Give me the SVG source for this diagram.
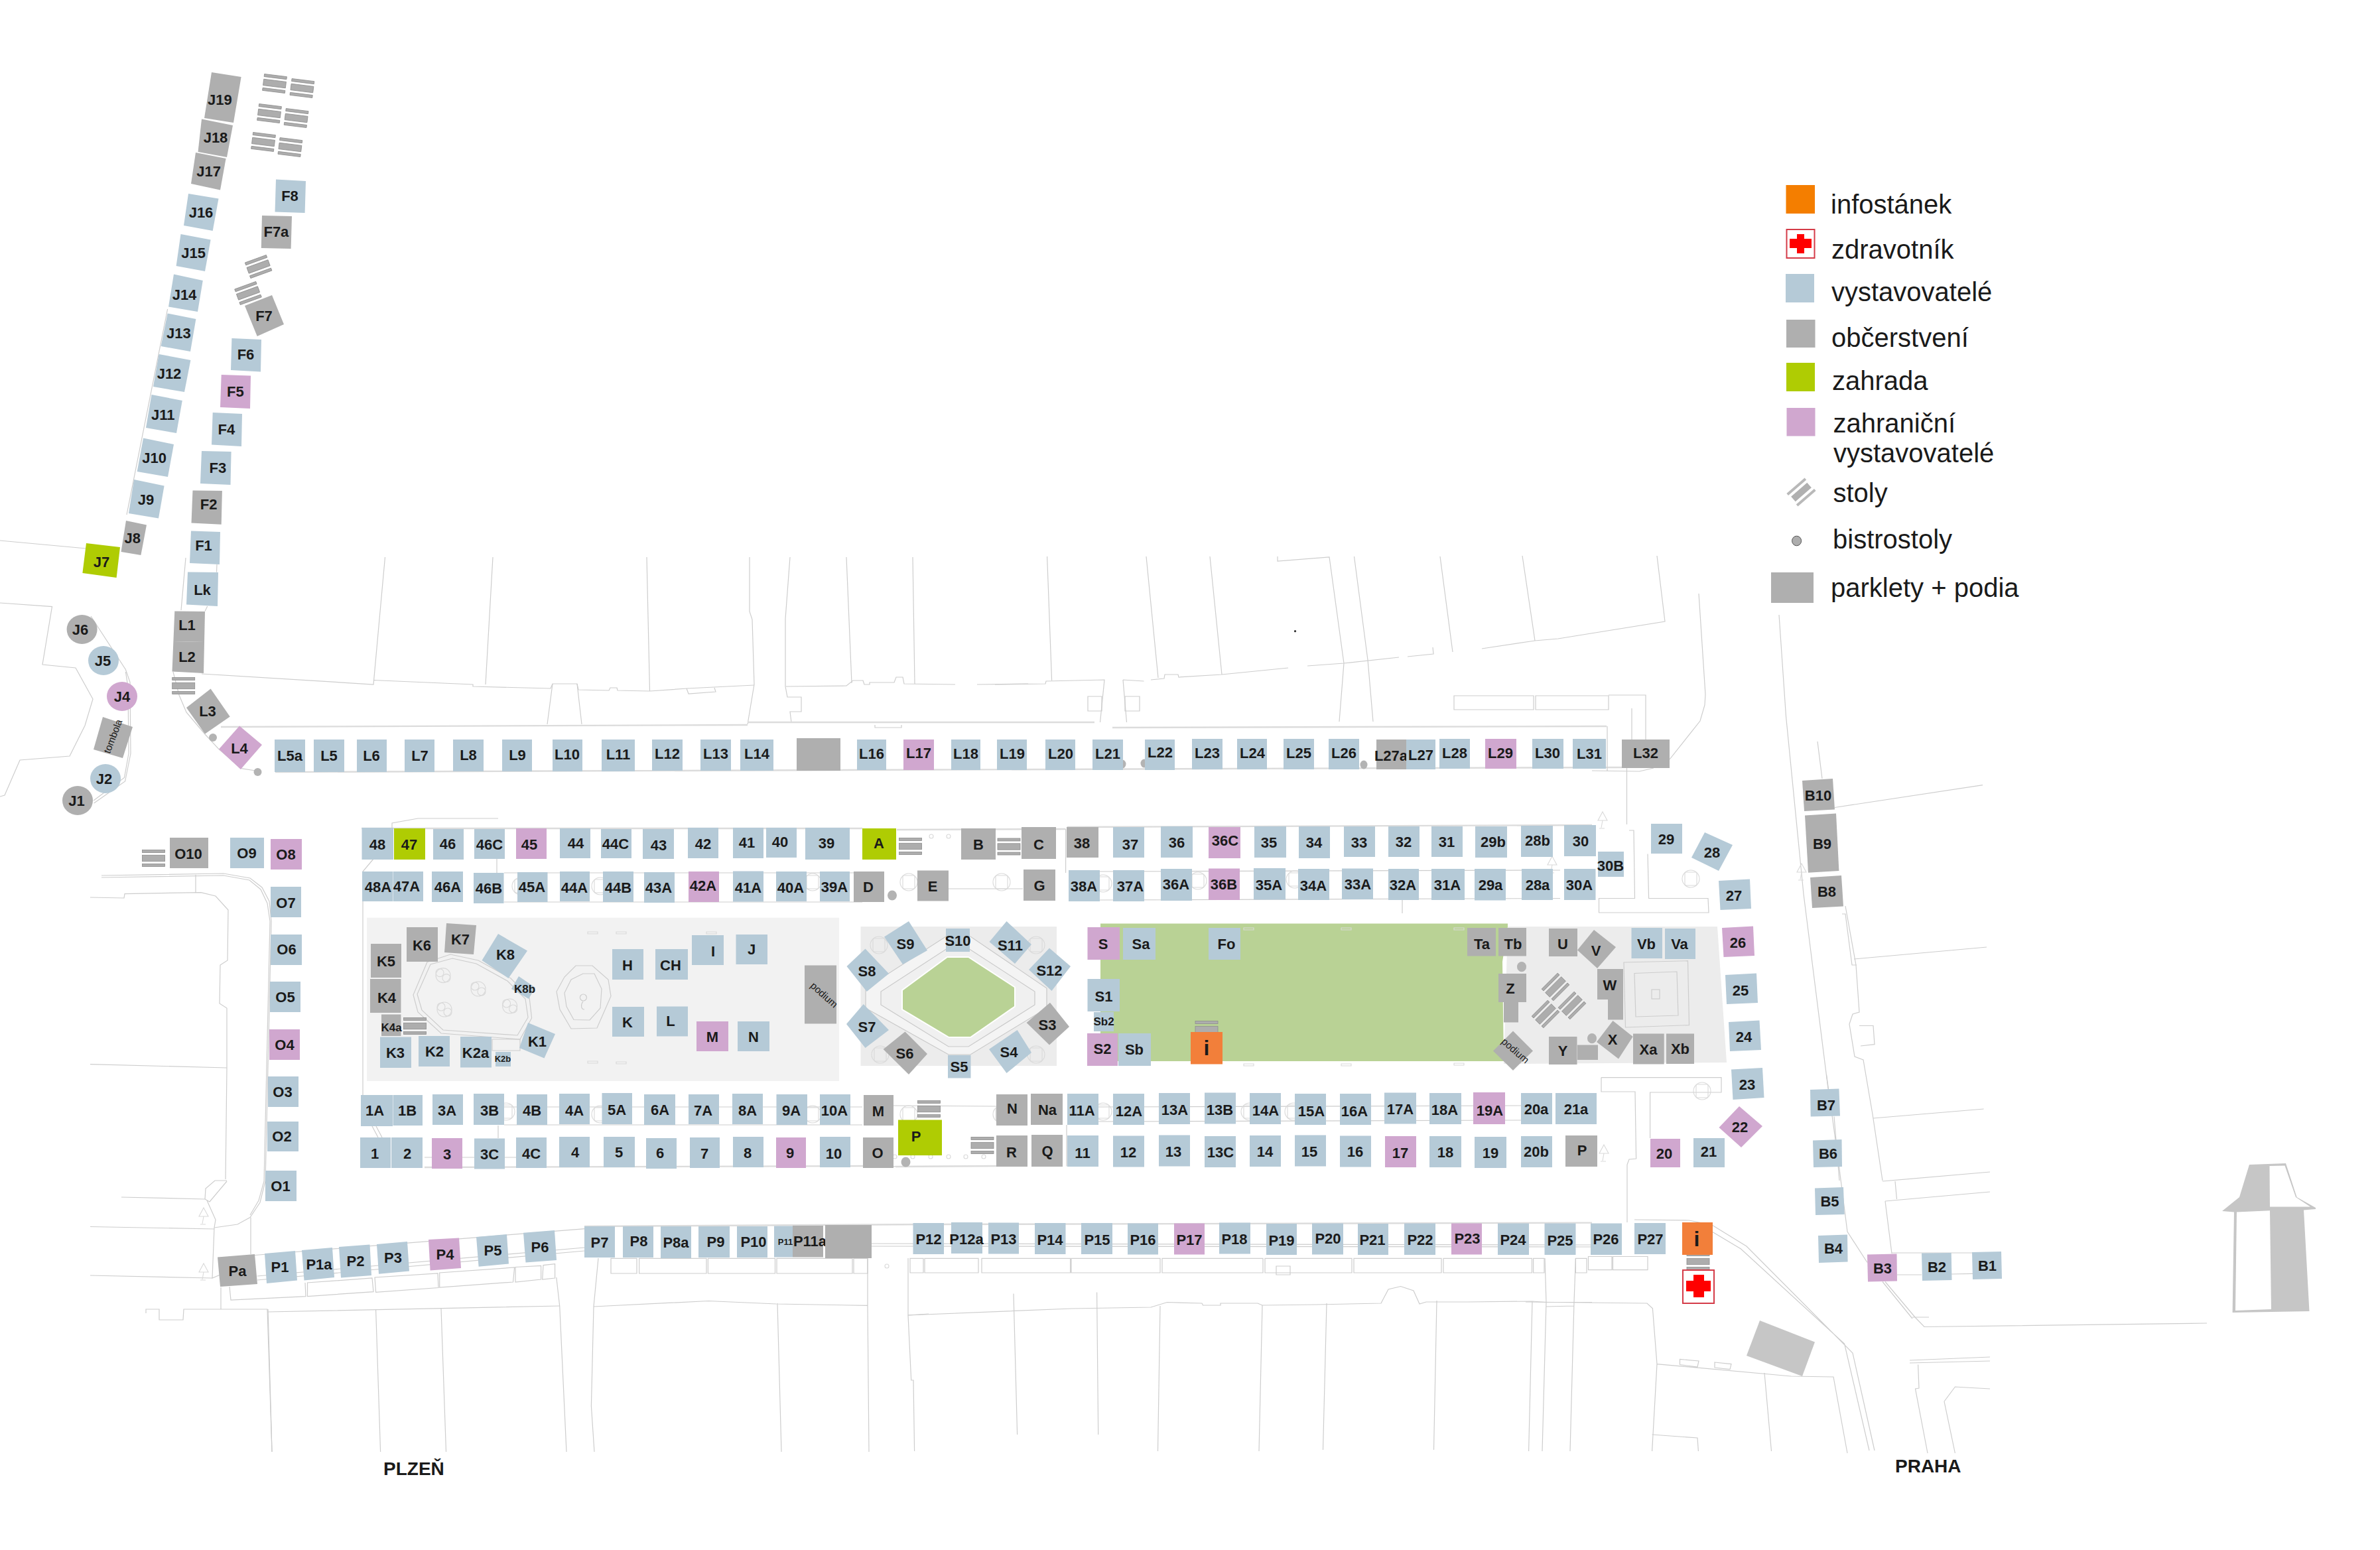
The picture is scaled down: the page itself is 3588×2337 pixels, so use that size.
<svg xmlns="http://www.w3.org/2000/svg" xmlns:xlink="http://www.w3.org/1999/xlink" width="3588" height="2337" viewBox="0 0 3588 2337">
<style>
.b{fill:#b5cad7}.g{fill:#afafaf}.p{fill:#d0a7cf}.z{fill:#afcc03}.o{fill:#f27f3a}
text{font-family:"Liberation Sans",Arial,sans-serif;fill:#1a1a1a}
.l{font-weight:700;font-size:22px;text-anchor:middle}
.s{font-weight:700;font-size:17px;text-anchor:middle}
.t{font-weight:700;font-size:13px;text-anchor:middle}
.r{font-size:15px;text-anchor:middle}
.lg{font-size:40px}
.c{font-weight:700;font-size:28px}
.ln{fill:none;stroke:#cdcdcd;stroke-width:1.2}
.hv{fill:none;stroke:#dcdcdc;stroke-width:2.4}
.sy{fill:none;stroke:#d9d9d9;stroke-width:1.1}
.bs{fill:#b3b3b3}
.tb{fill:#adadad;stroke:#8c8c8c;stroke-width:.8}
.red{fill:#f00}
</style>
<defs>
<g id="t"><rect class="tb" x="-17" y="-12.5" width="34" height="4"/><rect class="tb" x="-17" y="-4.7" width="34" height="9.4"/><rect class="tb" x="-17" y="8.5" width="34" height="4"/></g>
<g id="c"><rect class="sy" x="-9" y="-10" width="18" height="20" rx="2"/><ellipse class="sy" cx="0" cy="0" rx="13" ry="13"/></g>
<g id="a"><path class="sy" d="M0-12L7 1H-7ZM0 1L-2 12M-5 13H3"/></g>
<g id="d"><circle class="sy" r="3"/></g>
<g id="q"><circle class="sy" r="11"/><circle class="sy" cx="-5" cy="-4" r="6"/><circle class="sy" cx="5" cy="4" r="6"/></g>
</defs>
<g id="basemap">
<path class="ln" d="M0 815L130 827M0 909L78.5 914.6L64 1002L114 1007L140 1054L128 1094L105 1140L30 1146L7 1199L0 1201"/>
<path class="ln" d="M137 929L189.4 1009.5L196 1028.6L197 1136L188.6 1178L141.6 1211M189.4 1013L193 1036L194 1136L187.5 1172.4L141 1207"/>
<path class="ln" d="M191 776L252.6 466M280 841L273 920M327 851L326.5 862.6M312.7 914L309 921.5"/>
<path class="ln" d="M261 1013L270 1048L281 1074L309 1107L330 1129.6L363.6 1158.6L388.4 1162.5"/>
<path class="ln" d="M304 1016L563 1032L580.5 840M563 1025.5L713 1032L713 1035L830 1038L833 1031L870 1031L872 1040L918 1041L920 1037L930 1037L931 1041L979.5 1042L1036 1038L1137 1033"/>
<path class="ln" d="M743 840L732 1032M975 840L979.5 1042M1130 840L1130 922L1134 934L1137 1032L1127 1092M1191 840L1184 933L1184 1035L1187 1051L1208 1051L1208 1073L1191 1073L1193 1089M1276 840L1284 1030M1376 840L1379 1031"/>
<path class="ln" d="M1185 1035L1276 1034L1286 1026L1301 1026L1303 1032L1311 1032L1311 1029L1348 1029L1351 1021L1361 1021L1363 1031L1440 1032M1473 1032L1550 1031"/>
<path class="ln" d="M833 1031L825 1092M870 1031L877 1092M1035 1038L1038 1046L1079 1043L1077 1037M1319 1093L1319 1097L1359 1097L1359 1093"/>
<path class="hv" d="M333 1096L1127 1093M1127 1089L1650 1089M1677 1097L2422 1095M415 1164L2445 1157"/>
<path class="ln" d="M1500 1032L1576 1031L1577 1027L1665 1025L1658.5 1089M1578.6 839L1585.6 1026M1693 1025L1698.5 1089M1693 1025L1724.5 1027"/>
<path class="ln" d="M1735 1025L1755 1023L1756 1017L1776 1017L1777 1021L1842 1017L1942 1007M1971 1004L2026 1000L2109 991M2122 990L2161 986L2160 976M2234 978L2314 966L2349 963L2510 937L2498 838"/>
<path class="ln" d="M1728 839L1746 1022M1824 839L1842 1017M1926 839L1926 846L2004 840L2026 1000L2019 1088M2041.5 839L2062 995L2070 1088M2171 839L2190 983M2295 838L2314 966"/>
<path class="ln" d="M2561 895L2571 1047L2570 1063L2563 1087L2517 1145M2192 1049H2312V1070H2192ZM2315 1049H2425V1070H2315ZM2425 1048H2481V1115M2460 1068V1115M1640 1050H1661V1072H1640ZM1696 1050H1718V1072H1696Z"/>
<path class="ln" d="M2423 1095V1162.6M2400 1162L2471.6 1163L2493 1158M2452.5 1158V1243M2456 1252H2463L2464.5 1354.5H2410.5V1376H2576L2575 1354.5H2485.6L2484 1287.6"/>
<path class="ln" d="M2414 1624.6H2595V1647H2487.6V1716M2414 1624.6V1646H2465L2466.6 1747L2456 1748L2453 1756V1843"/>
<path class="ln" d="M2682 927L2692.5 1080L2719 1348L2756 1641.6M2740 1118L2747 1174M2765 1683.5L2773 1780M2782 1366L2798 1455L2803 1526L2793 1529L2788 1544L2796 1593L2809 1598L2823 1680L2838 1780"/>
<path class="ln" d="M2803 1546.5H2824L2826 1574.6L2805 1577M2766 1217.5L2989 1183.6M2795 1446L2995 1428M2824 1686L2990.6 1672M2777 1378H2782L2792 1455H2799"/>
<path class="ln" d="M2838 1781L3000 1767M2857 1781L2859.5 1808M2842 1811L3000 1797M2842 1811L2852 1890M2753.5 1620L2772.4 1758L2785 1857L2815 1903.5M2852 1889H2974M2860 1922H2897M2942 1921L2974 1920.4M2838 1932.5L2883 1988M2842 1932.5L2887 1986L2901 2000.5L3327 1995M2883 1986H2908"/>
<path class="ln" d="M2464 1839L2546.5 1840L2581 1847L2633 1879L2793 2040L2826 2187M2581 1857L2624.5 1883L2780.6 2026L2818 2187"/>
<path class="ln" d="M2300 1963L2483 1965L2491.4 1972.7L2498 2056.6L2700 2075L2764 2076L2785 2191M2498 2056.6L2490.6 2188M2660 2070L2670.5 2188M2490.6 2163L2559 2168L2560.4 2188M2532.5 2049.4L2561 2052L2559 2061L2532.5 2057.5ZM2585 2054L2610 2056.6L2608 2064.6L2585 2062Z"/>
<path class="ln" d="M2879 2051L3000 2046M2879 2055L3000 2052M2891.6 2057.5L2893 2093L2887.5 2094L2906 2191M2931 2113L2947.4 2091L3000 2094M2931 2113L2947.4 2191"/>
<path class="ln" d="M153 1320L337 1317L377 1324L395 1338L406 1359L409 1389L400 1781L392 1813L377 1835.5L358 1846L323 1851M153 1323L337 1320L376 1327L393 1341L403 1362L407 1389L398 1781L390 1810L377 1832"/>
<path class="ln" d="M136 1353L187 1354L188 1347.6L303 1345.6L325 1351L344 1372L343 1448L332 1455L331 1513L342 1520L342 1610L340 1778M136 1604.6L342 1610M295 1319V1345.6M342 1780H324L310 1792L309 1808L316 1812L342 1781M183 1805L310 1808"/>
<path class="ln" d="M312 1810L325 1839L323 1851L320 1927L332 1922M136 1849.5L323 1853M136 1923L320 1927M378 1835.5V1891M333 1941V1974M220 1980V1974H240V1990H276L277 1974H403L410 2189M403 1978L843.7 1969"/>
<path class="ln" d="M387.7 1924L881 1881M387.7 1930L881 1886M384 1892.5L882 1852.6M1314 1875L2400 1877M1314 1879L2400 1880"/>
<path class="hv" d="M881 1849L1400 1846L2400 1843.6"/>
<path class="ln" d="M1372 1897.4H1392V1919H1372ZM1394 1897.4H1475V1919H1394ZM1480 1897.4H1613.6V1919H1480ZM1615 1897.4H1749V1919H1615ZM1752 1897.4H1904V1919H1752ZM1907 1897.4H2038V1919H1907ZM2041 1897.4H2173V1919H2041ZM2176 1897.4H2309.5V1919H2176ZM2311.6 1897.4H2328V1919H2311.6ZM2375.4 1897.4H2392V1919H2375.4ZM2394.5 1894.5H2430V1914.6H2394.5ZM2431.5 1894.5H2484V1914.6H2431.5ZM1924 1909H1945V1922H1924Z"/>
<path class="ln" d="M921 1897.4H960V1920H921ZM963.6 1897.4H1065V1920H963.6ZM1067.4 1897.4H1168.5V1920H1067.4ZM1171 1897.4H1285V1920H1171ZM1287 1897.4H1308V1920H1287Z"/>
<path class="ln" d="M346 1940L348 1960L461 1954.6L460 1934M463.5 1934V1954.6L563 1947.6L561 1927ZM565 1926L566.6 1948.4L661 1941.5L660 1920ZM662.7 1919V1941L773.5 1933L775.6 1911ZM777 1910.5V1933L815.6 1929V1908.5ZM819 1907.6L817.7 1929L836.6 1927V1905.6Z"/>
<path class="ln" d="M838.8 1926L843.7 1969L854 2189M902 1897L895 1970L891.4 2120L896 2189M895 1970L1068 1961.5L1170 1966L1308 1968.4M404 1974L410 2189M566.6 1975L573.6 2189M665 1973L672.5 2189M1172 1965L1178 2189M1308 1897V1968L1310 2189M1400 1981L1369 1983"/>
<path class="ln" d="M1368.7 1983L1615.7 1973L1735 1971L1759.5 1963.5L1812 1965L1813.5 1968H1840V1965H1896L1903 1968L1984 1967L2082 1965L2093 1944L2111.6 1939.5L2131 1946L2140 1966L2150 1963H2212L2310 1962L2331 1963.5H2400"/>
<path class="ln" d="M1528 1950.5L1533.6 2163M1653.6 1948.4L1655.7 2163M1749 1969L1745.5 2188M1903 1968L1898 2188M2000 1965L1994.5 2186M2166 1961L2161.5 2186M2310 1962L2304.6 2188M2329 1897L2331 1963.5L2325 2188M2375.4 1897L2373 1963.5L2367 2188M2331 1970L2373 1969M1369 1897V1983L1373.7 2081H1377L1378.6 2188"/>
<path class="ln" d="M591 1248V1241L630 1234H751M563 1295L547 1314V1651M561 1698L570 1715M567 1698L576 1715M749 1295V1316M751 1697V1716"/>
<path class="hv" d="M545 1249H1300M1352 1251L1606.6 1250M1608.7 1247L2400 1244"/>
<path class="ln" d="M760 1316H1300M760 1360H1300M1606.6 1250V1316M1430 1340H1542M1658 1314L2352 1312M1658 1357L2352 1354.5M2114 1357V1377"/>
<path class="ln" d="M760 1669H1300M760 1696H1300M640 1745H780M1347 1667L1502 1668M1347 1758.5L1502 1758M1608 1696V1758.6M1656 1669L2293 1667M1656 1691L2293 1689"/>
<path class="hv" d="M640 1760L1302 1758M1350 1759L1502 1758"/>
<polygon points="3391,1756 3446,1754 3462.6,1805 3491,1821 3491,1823 3473,1824.5 3481.5,1977 3365.6,1979 3368,1827.6 3350,1826 3376,1805" fill="#c6c6c6"/>
<polygon points="3421.5,1758 3444.5,1757.5 3461,1805 3483,1819.5 3422,1819.5" fill="#fff"/>
<polygon points="3372,1827.6 3422,1825.3 3424,1974 3370,1976" fill="#fff"/>
<polygon points="2653,1991 2736,2023.5 2717,2075 2633,2044" fill="#c6c6c6"/>
<circle cx="1952.5" cy="951.7" r="1.6" fill="#333"/>
</g>
<g id="squares">
<rect x="553" y="1383.6" width="712" height="246.4" fill="#f2f2f2"/>
<rect x="1297.5" y="1397" width="295.5" height="210" fill="#ececec"/>
<polygon points="2273,1397 2589,1397 2603,1602 2267,1604" fill="#ececec"/>
<polygon points="1659,1392.5 2273,1392.5 2273,1397 2265,1450 2267,1600 1659,1600" fill="#b9d295"/>
<polygon points="1426,1412 1463,1412 1578,1490 1578,1520 1463,1590 1430,1590 1305,1520 1305,1490" fill="#f4f4f4" stroke="#c9c9c9" stroke-width="1.2"/>
<polygon points="1428,1430 1460,1430 1560,1495 1560,1515 1460,1578 1430,1578 1328,1515 1328,1495" fill="#f0f0f0" stroke="#c9c9c9" stroke-width="1.2"/>
<polygon points="1428,1443 1460,1443 1530,1488.5 1530,1517.5 1463,1564 1430.5,1564 1360,1522 1360,1493" fill="#b9d295" stroke="#fff" stroke-width="2"/>
<polygon class="ln" points="679,1439 721,1448 770,1475 798,1504 801.6,1535 784,1567 665,1558 630,1526 623,1500 644,1450.5"/>
<polygon class="ln" points="682,1445 718,1453 765,1479 792,1506 796,1534 780,1561 668,1553 636,1523 629,1499 649,1454"/>
<use href="#q" x="668" y="1470.6"/><use href="#q" x="721" y="1491"/><use href="#q" x="768.6" y="1517"/><use href="#q" x="670" y="1522"/>
<path class="ln" d="M742 1567H784V1584H742Z"/>
<polygon class="ln" points="868,1456 893,1456 917,1477 921,1502 900,1550 861,1551 844,1522 839,1495 851,1473"/>
<polygon class="ln" points="879,1468 896,1468 907,1491 905,1520 889,1538 865,1537.5 854,1517.5 851,1497 861,1477"/>
<path class="ln" d="M879 1510C875 1515 876 1522 881 1522"/><circle class="ln" cx="879.4" cy="1504" r="5"/>
<polygon class="ln" points="2448,1451 2544.5,1448.7 2546.5,1545.6 2450.5,1549"/>
<polygon class="ln" points="2464,1467.5 2528,1465 2530,1531 2466,1533"/>
<rect class="ln" x="2490" y="1492" width="12" height="14"/>
</g>
<g id="fixtures">
<use href="#c" x="785" y="1336"/><use href="#c" x="905" y="1336"/><use href="#c" x="1225" y="1330"/><use href="#c" x="1370" y="1330"/><use href="#c" x="1510" y="1330"/><use href="#c" x="1663" y="1332"/><use href="#c" x="1806" y="1328"/><use href="#c" x="1952" y="1326"/>
<use href="#c" x="763" y="1676"/><use href="#c" x="905" y="1680"/><use href="#c" x="1225" y="1680"/><use href="#c" x="1370" y="1680"/><use href="#c" x="1510" y="1680"/><use href="#c" x="1663" y="1676"/><use href="#c" x="1884" y="1676"/><use href="#c" x="1950" y="1676"/>
<use href="#c" x="2549" y="1325"/><use href="#c" x="2566" y="1645"/><use href="#c" x="1325" y="1425"/><use href="#c" x="1327" y="1590"/><use href="#c" x="1562" y="1425"/><use href="#c" x="1562" y="1590"/>
<use href="#a" x="2416" y="1236"/><use href="#a" x="2340" y="1303"/><use href="#a" x="2716" y="1314"/><use href="#a" x="2418" y="1738"/><use href="#a" x="307" y="1833"/><use href="#a" x="307" y="1917"/>
<use href="#d" x="1404" y="1261"/><use href="#d" x="1430" y="1261"/><use href="#d" x="1349" y="1744"/><use href="#d" x="1376" y="1744"/><use href="#d" x="1403" y="1744"/><use href="#d" x="1430" y="1744"/><use href="#d" x="1456" y="1744"/><use href="#d" x="1483" y="1744"/><use href="#d" x="1337" y="1909"/>
<path class="sy" d="M886 1405h15v3h-15zM929 1405h15v3h-15zM1065 1405h15v3h-15zM886 1600h15v3h-15zM929 1601h15v3h-15zM1875 1399h15v3h-15zM2022 1399h15v3h-15zM2192 1399h15v3h-15zM1875 1604h15v3h-15zM2022 1604h15v3h-15zM2192 1603h15v3h-15z"/>
<use href="#t" transform="translate(414,126) rotate(7)"/><use href="#t" transform="translate(455.4,133) rotate(7)"/><use href="#t" transform="translate(406,171) rotate(7)"/><use href="#t" transform="translate(446.6,178) rotate(7)"/><use href="#t" transform="translate(397,214) rotate(7)"/><use href="#t" transform="translate(437.4,222) rotate(7)"/>
<use href="#t" transform="translate(389.6,402) rotate(-20)"/><use href="#t" transform="translate(374,442) rotate(-20)"/>
<use href="#t" x="276.7" y="1034"/><use href="#t" x="231.5" y="1294"/><use href="#t" x="625.5" y="1547"/><use href="#t" x="1372.5" y="1276"/><use href="#t" x="1521" y="1276.5"/><use href="#t" x="1400.5" y="1672"/><use href="#t" x="1481" y="1727"/><use href="#t" x="1819" y="1552"/><use href="#t" x="2560" y="1902"/>
<use href="#t" transform="translate(2345,1488) rotate(-45)"/><use href="#t" transform="translate(2370,1516) rotate(-45)"/><use href="#t" transform="translate(2330,1529) rotate(-45)"/>
<ellipse class="bs" cx="321" cy="1112" rx="6" ry="6"/><ellipse class="bs" cx="388.5" cy="1164" rx="6" ry="6"/><ellipse class="bs" cx="1692" cy="1152" rx="5.5" ry="6.5"/><ellipse class="bs" cx="1725" cy="1151" rx="5.5" ry="6.5"/><ellipse class="bs" cx="2056" cy="1153" rx="5.5" ry="6.5"/><ellipse class="bs" cx="1345" cy="1350" rx="7" ry="7.5"/><ellipse class="bs" cx="1365.5" cy="1752" rx="7" ry="7.5"/><ellipse class="bs" cx="2294" cy="1457.7" rx="7" ry="7.6"/><ellipse class="bs" cx="2400" cy="1565.7" rx="7" ry="7.6"/>
</g>
<g id="nodes-north">
<g id="n-J19"><polygon class="g" points="319,109 363.6,116 352,185 308,178"/><text class="l" x="331.4" y="158">J19</text></g>
<g id="n-J18"><polygon class="g" points="304,179.5 351,189 342,237 298.5,229"/><text class="l" x="325" y="215">J18</text></g>
<g id="n-J17"><polygon class="g" points="295,230 340.6,239 332,286.6 288,277"/><text class="l" x="314.6" y="265.5">J17</text></g>
<g id="n-J16"><polygon class="b" points="284,292 329.5,299.6 320.7,348 277,340"/><text class="l" x="303" y="327.5">J16</text></g>
<g id="n-J15"><polygon class="b" points="272.5,353 317.6,361.5 309,409 265.6,401"/><text class="l" x="291.6" y="388.6">J15</text></g>
<g id="n-J14"><polygon class="b" points="262,413.5 305.8,423 298,470 254,462.5"/><text class="l" x="278" y="452">J14</text></g>
<g id="n-J13"><polygon class="b" points="252.6,472.5 295.4,481 287,530 242.6,522"/><text class="l" x="269.4" y="509.5">J13</text></g>
<g id="n-J12"><polygon class="b" points="239.6,534 287.4,543 278,591 231,583"/><text class="l" x="255" y="570.7">J12</text></g>
<g id="n-J11"><polygon class="b" points="228.5,595 274.8,604 266,653 220,645"/><text class="l" x="245.7" y="632.7">J11</text></g>
<g id="n-J10"><polygon class="b" points="216,660.6 262,670 253,719 206.7,711"/><text class="l" x="232.7" y="697.7">J10</text></g>
<g id="n-J9"><polygon class="b" points="202,723 247.6,732.5 239,781.5 194,774"/><text class="l" x="220" y="761">J9</text></g>
<g id="n-J8"><polygon class="g" points="190,785 221,791.5 212.4,837 182.5,832"/><text class="l" x="199.8" y="819">J8</text></g>
<g id="n-J7"><polygon class="z" points="130,819 181,825 175.6,871 124.4,864"/><text class="l" x="153" y="855">J7</text></g>
<g id="n-J6"><ellipse class="g" cx="123.6" cy="949" rx="23" ry="22"/><text class="l" x="121" y="957">J6</text></g>
<g id="n-J5"><ellipse class="b" cx="156" cy="996" rx="23" ry="22"/><text class="l" x="155" y="1004">J5</text></g>
<g id="n-J4"><ellipse class="p" cx="184" cy="1050" rx="23" ry="22"/><text class="l" x="184" y="1058">J4</text></g>
<g id="n-tombola"><polygon class="g" points="155,1081 200,1096 185,1143 141,1130"/><text class="r" transform="translate(175,1112) rotate(-69)">tombola</text></g>
<g id="n-J2"><ellipse class="b" cx="159" cy="1174" rx="23" ry="22"/><text class="l" x="157" y="1182">J2</text></g>
<g id="n-J1"><ellipse class="g" cx="117" cy="1207" rx="23" ry="22"/><text class="l" x="115.6" y="1215">J1</text></g>
<g id="n-F8"><polygon class="b" points="416,270.5 461,273 459.6,321 414.5,319.5"/><text class="l" x="437" y="303">F8</text></g>
<g id="n-F7a"><polygon class="g" points="395,325 440,326 438.6,375 393.8,374"/><text class="l" x="416.4" y="357">F7a</text></g>
<g id="n-F7"><polygon class="g" points="410,445 428,489 387.7,507 369,461"/><text class="l" x="398" y="483.5">F7</text></g>
<g id="n-F6"><polygon class="b" points="349.4,510 394,512 393,560.4 348,558"/><text class="l" x="370.5" y="542.4">F6</text></g>
<g id="n-F5"><polygon class="p" points="333.7,565 378,566.5 377,616 332,614"/><text class="l" x="354.8" y="598">F5</text></g>
<g id="n-F4"><polygon class="b" points="320.7,622 365,624 364,673 319,670.6"/><text class="l" x="341.4" y="655">F4</text></g>
<g id="n-F3"><polygon class="b" points="304,680 348.6,681 347.5,731 302,729"/><text class="l" x="328.4" y="713">F3</text></g>
<g id="n-F2"><polygon class="g" points="290.5,739.5 334.9,740 333.7,790.7 288.5,788.4"/><text class="l" x="314.6" y="768">F2</text></g>
<g id="n-F1"><polygon class="b" points="288,800.6 332,802 331,851 286,849"/><text class="l" x="307" y="830">F1</text></g>
<g id="n-Lk"><polygon class="b" points="283,862.6 329,863 328,914 281,911.6"/><text class="l" x="305" y="896.6">Lk</text></g>
<g id="n-L1"><polygon class="g" points="263.3,921.5 309,922 308,968 261.4,967"/><text class="l" x="282" y="950">L1</text></g>
<g id="n-L2"><polygon class="g" points="261.4,967 308,968 307,1015 259.5,1012.5"/><text class="l" x="282" y="998">L2</text></g>
<g id="n-L3"><polygon class="g" points="317.6,1038.6 346.7,1080.6 309,1106.6 281,1067"/><text class="l" x="313" y="1080">L3</text></g>
<g id="n-L4"><polygon class="p" points="361,1094.4 395,1123 362.8,1160 330,1129.6"/><text class="l" x="361" y="1136">L4</text></g>
</g>
<g id="nodes-l-row">
<g id="n-L5a"><rect class="b" x="414" y="1115" width="46" height="49"/><text class="l" x="437" y="1147">L5a</text></g>
<g id="n-L5"><rect class="b" x="473" y="1115" width="46" height="49"/><text class="l" x="496" y="1147">L5</text></g>
<g id="n-L6"><rect class="b" x="538" y="1115" width="45" height="49"/><text class="l" x="560" y="1147">L6</text></g>
<g id="n-L7"><rect class="b" x="610" y="1115" width="45" height="49"/><text class="l" x="633" y="1147">L7</text></g>
<g id="n-L8"><rect class="b" x="683" y="1115" width="46" height="48"/><text class="l" x="706" y="1146">L8</text></g>
<g id="n-L9"><rect class="b" x="757" y="1115" width="45" height="48"/><text class="l" x="780" y="1146">L9</text></g>
<g id="n-L10"><rect class="b" x="833" y="1115" width="45" height="48"/><text class="l" x="855" y="1145">L10</text></g>
<g id="n-L11"><rect class="b" x="907" y="1115" width="50" height="48"/><text class="l" x="932" y="1145">L11</text></g>
<g id="n-L12"><rect class="b" x="983" y="1115" width="46" height="47"/><text class="l" x="1006" y="1144">L12</text></g>
<g id="n-L13"><rect class="b" x="1056" y="1115" width="46" height="47"/><text class="l" x="1079" y="1144">L13</text></g>
<g id="n-L14"><rect class="b" x="1116" y="1115" width="50" height="47"/><text class="l" x="1141" y="1144">L14</text></g>
<rect id="n-parklet-1" class="g" x="1201" y="1113" width="66" height="49"/>
<g id="n-L16"><rect class="b" x="1292" y="1115" width="44" height="46"/><text class="l" x="1314" y="1144">L16</text></g>
<g id="n-L17"><rect class="p" x="1362" y="1115" width="46" height="46"/><text class="l" x="1385" y="1143">L17</text></g>
<g id="n-L18"><rect class="b" x="1434" y="1115" width="44" height="46"/><text class="l" x="1456" y="1144">L18</text></g>
<g id="n-L19"><rect class="b" x="1503" y="1115" width="45" height="46"/><text class="l" x="1526" y="1144">L19</text></g>
<g id="n-L20"><rect class="b" x="1576" y="1115" width="45" height="46"/><text class="l" x="1599" y="1144">L20</text></g>
<g id="n-L21"><rect class="b" x="1647" y="1115" width="46" height="46"/><text class="l" x="1670" y="1144">L21</text></g>
<g id="n-L22"><rect class="b" x="1726" y="1115" width="45" height="46"/><text class="l" x="1749" y="1142">L22</text></g>
<g id="n-L23"><rect class="b" x="1797" y="1114" width="46" height="46"/><text class="l" x="1820" y="1143">L23</text></g>
<g id="n-L24"><rect class="b" x="1865" y="1114" width="45" height="46"/><text class="l" x="1888" y="1143">L24</text></g>
<g id="n-L25"><rect class="b" x="1935" y="1114" width="46" height="46"/><text class="l" x="1958" y="1143">L25</text></g>
<g id="n-L26"><rect class="b" x="2003" y="1114" width="46" height="46"/><text class="l" x="2026" y="1143">L26</text></g>
<g id="n-L27a"><rect class="g" x="2075" y="1115" width="45" height="45"/><text class="l" x="2097" y="1147">L27a</text></g>
<g id="n-L27"><rect class="b" x="2120" y="1115" width="44" height="45"/><text class="l" x="2142" y="1146">L27</text></g>
<g id="n-L28"><rect class="b" x="2170" y="1114" width="46" height="45"/><text class="l" x="2193" y="1143">L28</text></g>
<g id="n-L29"><rect class="p" x="2239" y="1114" width="47" height="45"/><text class="l" x="2262" y="1143">L29</text></g>
<g id="n-L30"><rect class="b" x="2310" y="1114" width="47" height="45"/><text class="l" x="2333" y="1143">L30</text></g>
<g id="n-L31"><rect class="b" x="2371" y="1114" width="50" height="45"/><text class="l" x="2396" y="1144">L31</text></g>
<g id="n-L32"><rect class="g" x="2445" y="1115" width="72" height="43"/><text class="l" x="2481" y="1143">L32</text></g>
</g>
<g id="nodes-o">
<g id="n-O10"><rect class="g" x="256" y="1263" width="58" height="46"/><text class="l" x="284" y="1295">O10</text></g>
<g id="n-O9"><rect class="b" x="347" y="1263" width="51" height="46"/><text class="l" x="372" y="1294">O9</text></g>
<g id="n-O8"><rect class="p" x="408" y="1265" width="47" height="46"/><text class="l" x="431" y="1296">O8</text></g>
<g id="n-O7"><rect class="b" x="408" y="1337" width="46" height="46"/><text class="l" x="431" y="1369">O7</text></g>
<g id="n-O6"><rect class="b" x="408" y="1409" width="47" height="46"/><text class="l" x="432" y="1439">O6</text></g>
<g id="n-O5"><rect class="b" x="407" y="1480" width="46" height="46"/><text class="l" x="430" y="1511">O5</text></g>
<g id="n-O4"><rect class="p" x="406" y="1552" width="46" height="46"/><text class="l" x="429" y="1583">O4</text></g>
<g id="n-O3"><rect class="b" x="404" y="1623" width="46" height="46"/><text class="l" x="426" y="1654">O3</text></g>
<g id="n-O2"><rect class="b" x="403" y="1691" width="47" height="45"/><text class="l" x="425" y="1721">O2</text></g>
<g id="n-O1"><rect class="b" x="400" y="1765" width="47" height="46"/><text class="l" x="423" y="1796">O1</text></g>
</g>
<g id="nodes-north-rows">
<g id="n-48"><rect class="b" x="545.5" y="1248" width="47.5" height="48"/><text class="l" x="569" y="1281">48</text></g>
<g id="n-47"><rect class="z" x="594" y="1249" width="47" height="47"/><text class="l" x="617" y="1281">47</text></g>
<g id="n-46"><rect class="b" x="653" y="1250" width="46" height="46"/><text class="l" x="675" y="1280">46</text></g>
<g id="n-46C"><rect class="b" x="715" y="1250" width="46" height="45"/><text class="l" x="738" y="1281">46C</text></g>
<g id="n-45"><rect class="p" x="778" y="1249" width="46" height="46"/><text class="l" x="798" y="1281">45</text></g>
<g id="n-44"><rect class="b" x="844" y="1249" width="46" height="45"/><text class="l" x="868" y="1279">44</text></g>
<g id="n-44C"><rect class="b" x="906" y="1250" width="46" height="44"/><text class="l" x="928" y="1280">44C</text></g>
<g id="n-43"><rect class="b" x="969" y="1250" width="47" height="45"/><text class="l" x="993" y="1282">43</text></g>
<g id="n-42"><rect class="b" x="1037" y="1248" width="46" height="46"/><text class="l" x="1060" y="1280">42</text></g>
<g id="n-41"><rect class="b" x="1105" y="1248" width="46" height="46"/><text class="l" x="1126" y="1278">41</text></g>
<g id="n-40"><rect class="b" x="1155" y="1248" width="46" height="45"/><text class="l" x="1176" y="1277">40</text></g>
<g id="n-39"><rect class="b" x="1214" y="1248" width="67" height="48"/><text class="l" x="1246" y="1279">39</text></g>
<g id="n-A"><rect class="z" x="1300" y="1249" width="51" height="47"/><text class="l" x="1325" y="1279">A</text></g>
<g id="n-B"><rect class="g" x="1449" y="1249" width="52" height="47"/><text class="l" x="1475" y="1281">B</text></g>
<g id="n-C"><rect class="g" x="1540" y="1247" width="52" height="48"/><text class="l" x="1566" y="1281">C</text></g>
<g id="n-38"><rect class="g" x="1608" y="1247" width="48" height="46"/><text class="l" x="1631" y="1279">38</text></g>
<g id="n-37"><rect class="b" x="1678" y="1247" width="47" height="46"/><text class="l" x="1704" y="1281">37</text></g>
<g id="n-36"><rect class="b" x="1750" y="1246" width="48" height="47"/><text class="l" x="1774" y="1278">36</text></g>
<g id="n-36C"><rect class="p" x="1822" y="1247" width="48" height="47"/><text class="l" x="1847" y="1275">36C</text></g>
<g id="n-35"><rect class="b" x="1891" y="1246" width="48" height="47"/><text class="l" x="1913" y="1278">35</text></g>
<g id="n-34"><rect class="b" x="1958" y="1246" width="47" height="48"/><text class="l" x="1981" y="1278">34</text></g>
<g id="n-33"><rect class="b" x="2026" y="1246" width="47" height="46"/><text class="l" x="2049" y="1278">33</text></g>
<g id="n-32"><rect class="b" x="2093" y="1246" width="47" height="46"/><text class="l" x="2116" y="1277">32</text></g>
<g id="n-31"><rect class="b" x="2158" y="1246" width="47" height="46"/><text class="l" x="2181" y="1277">31</text></g>
<g id="n-29b"><rect class="b" x="2224" y="1246" width="48" height="47"/><text class="l" x="2251" y="1277">29b</text></g>
<g id="n-28b"><rect class="b" x="2293" y="1245" width="48" height="47"/><text class="l" x="2318" y="1275">28b</text></g>
<g id="n-30"><rect class="b" x="2358" y="1244" width="48" height="47"/><text class="l" x="2383" y="1276">30</text></g>
<g id="n-30B"><rect class="b" x="2409" y="1284" width="39" height="38"/><text class="l" x="2428" y="1313">30B</text></g>
<g id="n-29"><rect class="b" x="2489" y="1242" width="47" height="45"/><text class="l" x="2512" y="1273">29</text></g>
<g id="n-28"><polygon class="b" points="2570,1255 2612,1274 2591,1313 2550,1293"/><text class="l" x="2581" y="1293">28</text></g>
<g id="n-27"><polygon class="b" points="2591,1328 2638,1325.5 2640,1370 2593.5,1372"/><text class="l" x="2614" y="1358">27</text></g>
<g id="n-26"><polygon class="p" points="2596,1399 2643,1396.5 2645,1441 2598.5,1443"/><text class="l" x="2620" y="1429">26</text></g>
<g id="n-25"><polygon class="b" points="2601,1470 2648,1467.5 2650,1512 2603,1514"/><text class="l" x="2624" y="1501">25</text></g>
<g id="n-24"><polygon class="b" points="2606,1541 2652.5,1538.5 2655,1583 2608,1585"/><text class="l" x="2629" y="1571">24</text></g>
<g id="n-23"><polygon class="b" points="2610,1612.5 2657,1610 2659.5,1655 2612.5,1658"/><text class="l" x="2634" y="1643">23</text></g>
<g id="n-48A"><rect class="b" x="546" y="1314" width="46" height="45"/><text class="l" x="570" y="1345">48A</text></g>
<g id="n-47A"><rect class="b" x="592.5" y="1314" width="45.5" height="45"/><text class="l" x="613" y="1344">47A</text></g>
<g id="n-46A"><rect class="b" x="651" y="1314" width="47" height="46"/><text class="l" x="675" y="1345">46A</text></g>
<g id="n-46B"><rect class="b" x="714" y="1316" width="45.5" height="46"/><text class="l" x="737" y="1347">46B</text></g>
<g id="n-45A"><rect class="b" x="780" y="1315" width="45.5" height="45"/><text class="l" x="802" y="1345">45A</text></g>
<g id="n-44A"><rect class="b" x="844" y="1314" width="45" height="45"/><text class="l" x="866" y="1346">44A</text></g>
<g id="n-44B"><rect class="b" x="909" y="1314" width="46" height="46"/><text class="l" x="932" y="1346">44B</text></g>
<g id="n-43A"><rect class="b" x="971" y="1315" width="46" height="46"/><text class="l" x="993" y="1346">43A</text></g>
<g id="n-42A"><rect class="p" x="1038" y="1314" width="46" height="46"/><text class="l" x="1060" y="1343">42A</text></g>
<g id="n-41A"><rect class="b" x="1105" y="1313.5" width="46" height="46"/><text class="l" x="1128" y="1346">41A</text></g>
<g id="n-40A"><rect class="b" x="1170" y="1314" width="46" height="45"/><text class="l" x="1192" y="1346">40A</text></g>
<g id="n-39A"><rect class="b" x="1236" y="1314" width="45" height="45"/><text class="l" x="1258" y="1345">39A</text></g>
<g id="n-D"><rect class="g" x="1287" y="1314" width="46" height="46"/><text class="l" x="1309" y="1345">D</text></g>
<g id="n-E"><rect class="g" x="1383" y="1312.5" width="47" height="46"/><text class="l" x="1406" y="1344">E</text></g>
<g id="n-G"><rect class="g" x="1543" y="1311" width="48" height="47"/><text class="l" x="1567" y="1343">G</text></g>
<g id="n-38A"><rect class="b" x="1611" y="1312" width="47" height="47"/><text class="l" x="1634" y="1344">38A</text></g>
<g id="n-37A"><rect class="b" x="1678" y="1312" width="47" height="47"/><text class="l" x="1704" y="1344">37A</text></g>
<g id="n-36A"><rect class="b" x="1750" y="1310" width="47" height="48"/><text class="l" x="1773" y="1341">36A</text></g>
<g id="n-36B"><rect class="p" x="1822" y="1309.5" width="47" height="47.5"/><text class="l" x="1845" y="1341">36B</text></g>
<g id="n-35A"><rect class="b" x="1890" y="1309" width="48" height="47.5"/><text class="l" x="1913" y="1342">35A</text></g>
<g id="n-34A"><rect class="b" x="1957" y="1310" width="47" height="47"/><text class="l" x="1980" y="1343">34A</text></g>
<g id="n-33A"><rect class="b" x="2023" y="1309.5" width="47" height="46.5"/><text class="l" x="2047" y="1341">33A</text></g>
<g id="n-32A"><rect class="b" x="2093" y="1310" width="46" height="47"/><text class="l" x="2115" y="1342">32A</text></g>
<g id="n-31A"><rect class="b" x="2158" y="1310" width="50" height="47"/><text class="l" x="2182" y="1342">31A</text></g>
<g id="n-29a"><rect class="b" x="2223" y="1310" width="47" height="47.5"/><text class="l" x="2247" y="1342">29a</text></g>
<g id="n-28a"><rect class="b" x="2294" y="1310" width="47" height="47"/><text class="l" x="2318" y="1342">28a</text></g>
<g id="n-30A"><rect class="b" x="2358" y="1310" width="47.5" height="47"/><text class="l" x="2381" y="1342">30A</text></g>
</g>
<g id="nodes-k">
<g id="n-K5"><rect class="g" x="559" y="1423" width="46" height="51"/><text class="l" x="582" y="1457">K5</text></g>
<g id="n-K6"><rect class="g" x="613" y="1398" width="47" height="52"/><text class="l" x="636" y="1433">K6</text></g>
<g id="n-K7"><polygon class="g" points="673,1392 718,1395 714,1439 670,1436"/><text class="l" x="694" y="1424">K7</text></g>
<g id="n-K8"><polygon class="b" points="751,1408 795,1433.5 766.5,1475 726.5,1448"/><text class="l" x="762" y="1447">K8</text></g>
<g id="n-K8b"><polygon class="b" points="782,1472 807,1489 797,1506 771,1491"/><text class="s" x="791" y="1497">K8b</text></g>
<g id="n-K4"><rect class="g" x="558" y="1476" width="46.5" height="51"/><text class="l" x="583" y="1512">K4</text></g>
<g id="n-K4a"><rect class="g" x="575" y="1529.5" width="29.5" height="32.5"/><text class="s" x="590" y="1555">K4a</text></g>
<g id="n-K3"><rect class="b" x="573" y="1563.5" width="47" height="46.5"/><text class="l" x="596" y="1595">K3</text></g>
<g id="n-K2"><rect class="b" x="631" y="1562" width="47" height="46"/><text class="l" x="655" y="1593">K2</text></g>
<g id="n-K2a"><rect class="b" x="694" y="1563" width="47" height="46.5"/><text class="l" x="717" y="1595">K2a</text></g>
<g id="n-K2b"><rect class="b" x="747" y="1586" width="23" height="22"/><text class="t" x="758" y="1601">K2b</text></g>
<g id="n-K1"><polygon class="b" points="796,1542 837,1559 820.5,1595.6 783,1580"/><text class="l" x="810" y="1578">K1</text></g>
<g id="n-H"><rect class="b" x="923" y="1431" width="47" height="46"/><text class="l" x="946" y="1463">H</text></g>
<g id="n-CH"><rect class="b" x="988" y="1431" width="49" height="46"/><text class="l" x="1011" y="1463">CH</text></g>
<g id="n-I"><rect class="b" x="1043" y="1410" width="48" height="45"/><text class="l" x="1075" y="1442">I</text></g>
<g id="n-J"><rect class="b" x="1109.5" y="1409" width="47.5" height="45"/><text class="l" x="1133" y="1439">J</text></g>
<g id="n-K"><rect class="b" x="923" y="1518" width="48" height="45"/><text class="l" x="946" y="1549">K</text></g>
<g id="n-L"><rect class="b" x="990" y="1517.5" width="47" height="45"/><text class="l" x="1011" y="1547">L</text></g>
<g id="n-M-p"><rect class="p" x="1050" y="1540" width="48" height="45"/><text class="l" x="1074" y="1571">M</text></g>
<g id="n-N-b"><rect class="b" x="1112" y="1540" width="48" height="45"/><text class="l" x="1136" y="1571">N</text></g>
<g id="n-podium-1"><rect class="g" x="1213" y="1455.5" width="48" height="88"/><text class="r" transform="translate(1239,1504) rotate(42)">podium</text></g>
<g id="n-S9"><polygon class="b" points="1370,1389 1398,1433 1361,1454 1333,1412.6"/><text class="l" x="1365" y="1431">S9</text></g>
<g id="n-S8"><polygon class="b" points="1304.5,1430.4 1340,1468 1306.7,1495 1276.5,1457"/><text class="l" x="1307" y="1472">S8</text></g>
<g id="n-S7"><polygon class="b" points="1301.7,1514 1340,1553 1304.5,1580 1276,1544"/><text class="l" x="1307" y="1556">S7</text></g>
<g id="n-S6"><polygon class="g" points="1364.5,1555.4 1398,1589 1370,1620 1331.6,1582"/><text class="l" x="1364" y="1596">S6</text></g>
<g id="n-S10"><rect class="b" x="1426" y="1400" width="36" height="35"/><text class="l" x="1444" y="1426">S10</text></g>
<g id="n-S11"><polygon class="b" points="1517.5,1389 1555,1424 1530,1453 1491.5,1420"/><text class="l" x="1523" y="1433">S11</text></g>
<g id="n-S12"><polygon class="b" points="1582,1429.5 1614,1457 1585.5,1494 1551,1462"/><text class="l" x="1582" y="1471">S12</text></g>
<g id="n-S3"><polygon class="g" points="1583,1511.7 1612,1548 1582,1575.5 1547.6,1542"/><text class="l" x="1579" y="1553">S3</text></g>
<g id="n-S4"><polygon class="b" points="1533.6,1553 1555,1587 1517.5,1618 1491,1582"/><text class="l" x="1521" y="1594">S4</text></g>
<g id="n-S5"><rect class="b" x="1429" y="1591" width="34.5" height="34.5"/><text class="l" x="1446" y="1616">S5</text></g>
<g id="n-S"><rect class="p" x="1639.5" y="1398" width="48.5" height="49"/><text class="l" x="1663" y="1431">S</text></g>
<g id="n-Sa"><rect class="b" x="1693" y="1399" width="49" height="48"/><text class="l" x="1720" y="1431">Sa</text></g>
<g id="n-Fo"><rect class="b" x="1822" y="1399" width="48" height="48"/><text class="l" x="1849" y="1431">Fo</text></g>
<g id="n-S1"><rect class="b" x="1639.5" y="1476" width="48.5" height="49"/><text class="l" x="1664" y="1510">S1</text></g>
<g id="n-Sb2"><rect class="b" x="1649" y="1526" width="30" height="29"/><text class="s" x="1664" y="1546">Sb2</text></g>
<g id="n-S2"><rect class="p" x="1639" y="1558" width="46" height="49"/><text class="l" x="1662" y="1589">S2</text></g>
<g id="n-Sb"><rect class="b" x="1686" y="1558" width="49" height="49"/><text class="l" x="1710" y="1590">Sb</text></g>
<g id="n-info-1"><rect class="o" x="1795" y="1556" width="48" height="48.5"/><text x="1819" y="1591" text-anchor="middle" font-weight="700" font-size="32">i</text></g>
<g id="n-Ta"><rect class="g" x="2212" y="1399" width="43" height="42.5"/><text class="l" x="2234" y="1431">Ta</text></g>
<g id="n-Tb"><rect class="g" x="2259" y="1399" width="42" height="42.5"/><text class="l" x="2281" y="1431">Tb</text></g>
<g id="n-U"><rect class="g" x="2335" y="1400" width="43" height="42"/><text class="l" x="2356" y="1431">U</text></g>
<g id="n-V"><polygon class="g" points="2403,1402 2436,1428 2408,1460 2378,1432.6"/><text class="l" x="2406" y="1441">V</text></g>
<g id="n-Vb"><rect class="b" x="2459.5" y="1399" width="46.5" height="46"/><text class="l" x="2482" y="1431">Vb</text></g>
<g id="n-Va"><rect class="b" x="2510" y="1400" width="46" height="46"/><text class="l" x="2532" y="1431">Va</text></g>
<g id="n-Z"><path class="g" d="M2259 1468H2301V1511H2289V1541.6H2267V1511H2259Z"/><text class="l" x="2277" y="1498">Z</text></g>
<g id="n-W"><path class="g" d="M2408 1461H2447V1537.5H2424V1507H2408Z"/><text class="l" x="2427" y="1493">W</text></g>
<g id="n-podium-2"><polygon class="g" points="2281,1554.5 2311,1584.5 2281,1614 2251,1584.5"/><text class="r" transform="translate(2281,1588) rotate(41)">podium</text></g>
<g id="n-Y"><path class="g" d="M2335 1563H2377.5V1605H2335ZM2378 1575.5H2409V1598H2378Z"/><text class="l" x="2356" y="1592">Y</text></g>
<g id="n-X"><polygon class="g" points="2431.5,1539 2461.7,1563 2440,1596.5 2407,1571"/><text class="l" x="2431" y="1575">X</text></g>
<g id="n-Xa"><rect class="g" x="2462" y="1558.5" width="46.7" height="46"/><text class="l" x="2485" y="1590">Xa</text></g>
<g id="n-Xb"><rect class="g" x="2512" y="1558.5" width="42" height="45.5"/><text class="l" x="2533" y="1589">Xb</text></g>
</g>
<g id="nodes-south-rows">
<g id="n-1A"><rect class="b" x="544" y="1651" width="48" height="47"/><text class="l" x="565" y="1682">1A</text></g>
<g id="n-1B"><rect class="b" x="592.5" y="1651" width="44.5" height="46"/><text class="l" x="614" y="1682">1B</text></g>
<g id="n-3A"><rect class="b" x="652" y="1650" width="46" height="46"/><text class="l" x="674" y="1682">3A</text></g>
<g id="n-3B"><rect class="b" x="714" y="1649" width="46" height="47"/><text class="l" x="738" y="1682">3B</text></g>
<g id="n-4B"><rect class="b" x="779" y="1650" width="46" height="46"/><text class="l" x="802" y="1682">4B</text></g>
<g id="n-4A"><rect class="b" x="843" y="1649" width="46" height="46"/><text class="l" x="866" y="1682">4A</text></g>
<g id="n-5A"><rect class="b" x="907.5" y="1648" width="45.5" height="47"/><text class="l" x="930" y="1681">5A</text></g>
<g id="n-6A"><rect class="b" x="971" y="1650" width="47" height="46"/><text class="l" x="995" y="1681">6A</text></g>
<g id="n-7A"><rect class="b" x="1038" y="1650" width="46" height="45"/><text class="l" x="1060" y="1682">7A</text></g>
<g id="n-8A"><rect class="b" x="1104" y="1649" width="46" height="46"/><text class="l" x="1127" y="1682">8A</text></g>
<g id="n-9A"><rect class="b" x="1170.5" y="1650" width="46.5" height="46"/><text class="l" x="1193" y="1682">9A</text></g>
<g id="n-10A"><rect class="b" x="1236" y="1650" width="46" height="46"/><text class="l" x="1258" y="1682">10A</text></g>
<g id="n-M"><rect class="g" x="1302" y="1651" width="45" height="46"/><text class="l" x="1324" y="1683">M</text></g>
<g id="n-1"><rect class="b" x="543" y="1715" width="46" height="46"/><text class="l" x="565" y="1747">1</text></g>
<g id="n-2"><rect class="b" x="590" y="1715" width="47" height="46"/><text class="l" x="614" y="1747">2</text></g>
<g id="n-3"><rect class="p" x="651" y="1716" width="46" height="46"/><text class="l" x="674" y="1748">3</text></g>
<g id="n-3C"><rect class="b" x="715" y="1716.5" width="46" height="46"/><text class="l" x="738" y="1748">3C</text></g>
<g id="n-4C"><rect class="b" x="778" y="1715" width="46" height="46"/><text class="l" x="801" y="1747">4C</text></g>
<g id="n-4"><rect class="b" x="843" y="1714" width="46" height="46"/><text class="l" x="867" y="1745">4</text></g>
<g id="n-5"><rect class="b" x="910" y="1714" width="47" height="46"/><text class="l" x="933" y="1745">5</text></g>
<g id="n-6"><rect class="b" x="974" y="1716" width="46" height="46"/><text class="l" x="995" y="1746">6</text></g>
<g id="n-7"><rect class="b" x="1040" y="1715" width="45" height="46"/><text class="l" x="1062" y="1747">7</text></g>
<g id="n-8"><rect class="b" x="1105" y="1714" width="46" height="46"/><text class="l" x="1127" y="1746">8</text></g>
<g id="n-9"><rect class="p" x="1170" y="1715" width="45" height="46"/><text class="l" x="1191" y="1746">9</text></g>
<g id="n-10"><rect class="b" x="1236" y="1714" width="46" height="46"/><text class="l" x="1257" y="1747">10</text></g>
<g id="n-O"><rect class="g" x="1301" y="1715" width="46" height="46"/><text class="l" x="1323" y="1746">O</text></g>
<g id="n-P-z"><rect class="z" x="1354" y="1688.5" width="66" height="53.5"/><text class="l" x="1381" y="1721">P</text></g>
<g id="n-N"><rect class="g" x="1502" y="1650" width="47" height="47"/><text class="l" x="1526" y="1679">N</text></g>
<g id="n-Na"><rect class="g" x="1554" y="1649" width="48" height="47"/><text class="l" x="1579" y="1681">Na</text></g>
<g id="n-R"><rect class="g" x="1502" y="1712" width="47" height="47"/><text class="l" x="1525" y="1745">R</text></g>
<g id="n-Q"><rect class="g" x="1555" y="1711" width="47" height="48"/><text class="l" x="1579" y="1743">Q</text></g>
<g id="n-11A"><rect class="b" x="1609" y="1649" width="47" height="47"/><text class="l" x="1631" y="1682">11A</text></g>
<g id="n-12A"><rect class="b" x="1678" y="1649" width="47" height="47"/><text class="l" x="1702" y="1683">12A</text></g>
<g id="n-13A"><rect class="b" x="1747" y="1648" width="47" height="47"/><text class="l" x="1771" y="1681">13A</text></g>
<g id="n-13B"><rect class="b" x="1816" y="1647.5" width="47" height="47"/><text class="l" x="1839" y="1681">13B</text></g>
<g id="n-14A"><rect class="b" x="1884" y="1648" width="47" height="47"/><text class="l" x="1908" y="1682">14A</text></g>
<g id="n-15A"><rect class="b" x="1952" y="1649" width="47" height="47"/><text class="l" x="1977" y="1683">15A</text></g>
<g id="n-16A"><rect class="b" x="2020" y="1649" width="47" height="47"/><text class="l" x="2042" y="1683">16A</text></g>
<g id="n-17A"><rect class="b" x="2087" y="1647.5" width="48" height="47"/><text class="l" x="2111" y="1680">17A</text></g>
<g id="n-18A"><rect class="b" x="2155" y="1648" width="48" height="47"/><text class="l" x="2178" y="1681">18A</text></g>
<g id="n-19A"><rect class="p" x="2221" y="1647" width="48" height="48"/><text class="l" x="2246" y="1682">19A</text></g>
<g id="n-20a"><rect class="b" x="2293" y="1648" width="47" height="47"/><text class="l" x="2316" y="1680">20a</text></g>
<g id="n-21a"><rect class="b" x="2345" y="1648" width="62" height="47"/><text class="l" x="2376" y="1680">21a</text></g>
<g id="n-11"><rect class="b" x="1609" y="1712" width="47" height="47"/><text class="l" x="1632" y="1746">11</text></g>
<g id="n-12"><rect class="b" x="1678" y="1712.5" width="47" height="47"/><text class="l" x="1701" y="1745">12</text></g>
<g id="n-13"><rect class="b" x="1747" y="1711.5" width="47" height="47"/><text class="l" x="1769" y="1744">13</text></g>
<g id="n-13C"><rect class="b" x="1816" y="1713" width="47" height="47"/><text class="l" x="1840" y="1745">13C</text></g>
<g id="n-14"><rect class="b" x="1884" y="1712" width="47" height="47"/><text class="l" x="1907" y="1744">14</text></g>
<g id="n-15"><rect class="b" x="1952" y="1711.5" width="47" height="47"/><text class="l" x="1974" y="1744">15</text></g>
<g id="n-16"><rect class="b" x="2020" y="1712.5" width="47" height="47"/><text class="l" x="2043" y="1744">16</text></g>
<g id="n-17"><rect class="p" x="2088" y="1713" width="47" height="47"/><text class="l" x="2111" y="1746">17</text></g>
<g id="n-18"><rect class="b" x="2155" y="1713" width="48" height="47"/><text class="l" x="2179" y="1745">18</text></g>
<g id="n-19"><rect class="b" x="2223" y="1714" width="48" height="47"/><text class="l" x="2247" y="1746">19</text></g>
<g id="n-20b"><rect class="b" x="2293" y="1713" width="47" height="47"/><text class="l" x="2316" y="1744">20b</text></g>
<g id="n-P-g"><rect class="g" x="2360" y="1712" width="48" height="47"/><text class="l" x="2385" y="1742">P</text></g>
<g id="n-20"><rect class="p" x="2488" y="1717" width="45" height="43"/><text class="l" x="2509" y="1747">20</text></g>
<g id="n-21"><rect class="b" x="2553" y="1716" width="47" height="44"/><text class="l" x="2576" y="1744">21</text></g>
<g id="n-22"><polygon class="p" points="2622,1668 2657,1698 2625,1730 2591.5,1700"/><text class="l" x="2623" y="1707">22</text></g>
</g>
<g id="nodes-p">
<g id="n-Pa"><polygon class="g" points="328,1895.4 384,1891 388,1936 332,1940"/><text class="l" x="358" y="1924">Pa</text></g>
<g id="n-P1"><polygon class="b" points="399,1890 445,1886 448,1930.5 402,1935"/><text class="l" x="422" y="1918">P1</text></g>
<g id="n-P1a"><polygon class="b" points="455,1885 501,1881 504,1926 458.5,1930.5"/><text class="l" x="481" y="1914">P1a</text></g>
<g id="n-P2"><polygon class="b" points="511,1880 557.5,1876.6 560,1923 514,1926.4"/><text class="l" x="536" y="1909">P2</text></g>
<g id="n-P3"><polygon class="b" points="568,1876 614,1872 617,1916.6 571,1920.7"/><text class="l" x="592.5" y="1904">P3</text></g>
<g id="n-P4"><polygon class="p" points="646,1869 692,1866.4 695,1912 648.6,1915.4"/><text class="l" x="671" y="1898.5">P4</text></g>
<g id="n-P5"><polygon class="b" points="718,1865 764,1861 767,1905.6 721.6,1909.7"/><text class="l" x="743" y="1893">P5</text></g>
<g id="n-P6"><polygon class="b" points="789,1858.7 836,1855 839,1900 792.5,1903.6"/><text class="l" x="814" y="1887.5">P6</text></g>
<g id="n-P7"><rect class="b" x="881" y="1849" width="46" height="47"/><text class="l" x="904" y="1881">P7</text></g>
<g id="n-P8"><rect class="b" x="939" y="1849" width="46" height="47"/><text class="l" x="963" y="1879">P8</text></g>
<g id="n-P8a"><rect class="b" x="996" y="1849" width="46" height="48"/><text class="l" x="1019" y="1881">P8a</text></g>
<g id="n-P9"><rect class="b" x="1053" y="1849" width="47" height="47"/><text class="l" x="1079" y="1880">P9</text></g>
<g id="n-P10"><rect class="b" x="1111" y="1849" width="46" height="47"/><text class="l" x="1136" y="1880">P10</text></g>
<g id="n-P11"><rect class="b" x="1167" y="1848.5" width="28" height="47"/><text class="t" x="1184" y="1877">P11</text></g>
<g id="n-P11a"><rect class="g" x="1195" y="1848" width="46" height="47.5"/><text class="l" x="1221" y="1879">P11a</text></g>
<rect id="n-parklet-2" class="g" x="1244" y="1847" width="70" height="50"/>
<g id="n-P12"><rect class="b" x="1376.5" y="1844" width="46.5" height="47"/><text class="l" x="1400" y="1876">P12</text></g>
<g id="n-P12a"><rect class="b" x="1434" y="1843" width="47" height="47"/><text class="l" x="1457" y="1876">P12a</text></g>
<g id="n-P13"><rect class="b" x="1490" y="1843.5" width="46" height="47"/><text class="l" x="1513" y="1876">P13</text></g>
<g id="n-P14"><rect class="b" x="1560" y="1844" width="46.5" height="47"/><text class="l" x="1583" y="1877">P14</text></g>
<g id="n-P15"><rect class="b" x="1630" y="1844" width="47" height="47"/><text class="l" x="1654" y="1877">P15</text></g>
<g id="n-P16"><rect class="b" x="1700" y="1844.5" width="46" height="47"/><text class="l" x="1723" y="1877">P16</text></g>
<g id="n-P17"><rect class="p" x="1770" y="1844.5" width="46" height="47"/><text class="l" x="1793" y="1877">P17</text></g>
<g id="n-P18"><rect class="b" x="1838" y="1843.5" width="47" height="47"/><text class="l" x="1861" y="1876">P18</text></g>
<g id="n-P19"><rect class="b" x="1909" y="1845" width="46" height="47"/><text class="l" x="1932" y="1878">P19</text></g>
<g id="n-P20"><rect class="b" x="1978" y="1844.5" width="47" height="47"/><text class="l" x="2002" y="1875">P20</text></g>
<g id="n-P21"><rect class="b" x="2047" y="1845" width="46" height="47"/><text class="l" x="2069" y="1877">P21</text></g>
<g id="n-P22"><rect class="b" x="2117" y="1844.5" width="47" height="47.5"/><text class="l" x="2141" y="1877">P22</text></g>
<g id="n-P23"><rect class="p" x="2188" y="1844.5" width="46" height="47"/><text class="l" x="2212" y="1875">P23</text></g>
<g id="n-P24"><rect class="b" x="2258" y="1844.5" width="47" height="47.5"/><text class="l" x="2281" y="1877">P24</text></g>
<g id="n-P25"><rect class="b" x="2328.5" y="1844.5" width="47" height="47.5"/><text class="l" x="2352" y="1878">P25</text></g>
<g id="n-P26"><rect class="b" x="2398" y="1844.5" width="47" height="47.5"/><text class="l" x="2421" y="1876">P26</text></g>
<g id="n-P27"><rect class="b" x="2464" y="1844" width="47" height="47"/><text class="l" x="2488" y="1876">P27</text></g>
<g id="n-info-2"><rect class="o" x="2536" y="1843" width="46" height="49"/><text x="2558" y="1879" text-anchor="middle" font-weight="700" font-size="32">i</text></g>
<g id="n-medic"><rect x="2537" y="1915" width="47" height="50" fill="#fff" stroke="#d43b48" stroke-width="2"/><path class="red" d="M2553 1922H2569V1931H2579V1947H2569V1956H2553V1947H2542V1931H2553Z"/></g>
</g>
<g id="nodes-b">
<g id="n-B10"><polygon class="g" points="2717,1177 2763,1174 2766,1220.6 2720,1223"/><text class="l" x="2741" y="1207">B10</text></g>
<g id="n-B9"><polygon class="g" points="2721,1229.5 2768,1226.4 2772.4,1313 2726,1315.7"/><text class="l" x="2747" y="1280">B9</text></g>
<g id="n-B8"><polygon class="g" points="2729,1323 2776,1320 2779,1366.6 2732,1369"/><text class="l" x="2754" y="1352">B8</text></g>
<g id="n-B7"><polygon class="b" points="2729,1643 2772.4,1641.4 2774,1682.5 2729.7,1683.4"/><text class="l" x="2753" y="1674">B7</text></g>
<g id="n-B6"><polygon class="b" points="2733,1719.5 2776.5,1718 2777,1759 2734,1760"/><text class="l" x="2756" y="1747">B6</text></g>
<g id="n-B5"><polygon class="b" points="2736,1791.4 2779,1790 2780.6,1831 2737,1832"/><text class="l" x="2758.5" y="1819">B5</text></g>
<g id="n-B4"><polygon class="b" points="2741,1863 2785,1861.5 2785.6,1902.6 2742,1904"/><text class="l" x="2764" y="1890">B4</text></g>
<g id="n-B3"><polygon class="p" points="2815,1891.4 2859.5,1890.5 2860,1931.6 2816,1932.5"/><text class="l" x="2838" y="1920">B3</text></g>
<g id="n-B2"><polygon class="b" points="2897,1889.6 2941.7,1889 2942.5,1930 2898,1931"/><text class="l" x="2920" y="1918">B2</text></g>
<g id="n-B1"><polygon class="b" points="2973,1888 3017,1887 3018,1928 2974,1929"/><text class="l" x="2996" y="1916">B1</text></g>
</g>
<g id="places">
<text class="c" x="578" y="2224">PLZEŇ</text>
<text class="c" x="2857" y="2219.5">PRAHA</text>
</g>
<g id="legend">
<rect x="2692.5" y="279" width="43.5" height="43" fill="#f47e00"/>
<rect x="2693.5" y="346" width="42" height="43" fill="#fff" stroke="#d43b48" stroke-width="2"/><path class="red" d="M2709 353H2720V360H2731V374H2720V382H2709V374H2698V360H2709Z"/>
<rect x="2692" y="413" width="43" height="43" class="b"/>
<rect x="2693" y="482" width="43.5" height="42" class="g"/>
<rect x="2693" y="547" width="43" height="43" class="z"/>
<rect x="2693.5" y="615" width="43" height="42.5" class="p"/>
<g transform="translate(2715.5,742) rotate(-41)"><rect x="-18" y="-13" width="36" height="4" fill="#b9b9b9"/><rect x="-16" y="-5" width="32" height="10" fill="#b0b0b0"/><rect x="-18" y="9" width="36" height="4" fill="#b9b9b9"/></g>
<ellipse cx="2708.6" cy="815.5" rx="7" ry="7.3" fill="#adadad" stroke="#555" stroke-width="1"/>
<rect x="2670" y="863" width="64" height="46" class="g"/>
<text class="lg" x="2760" y="322">infostánek</text>
<text class="lg" x="2761" y="390">zdravotník</text>
<text class="lg" x="2761" y="454">vystavovatelé</text>
<text class="lg" x="2761" y="523">občerstvení</text>
<text class="lg" x="2762" y="588">zahrada</text>
<text class="lg" x="2763.5" y="651.6">zahraniční</text>
<text class="lg" x="2764" y="696.6">vystavovatelé</text>
<text class="lg" x="2763.5" y="757">stoly</text>
<text class="lg" x="2763" y="827">bistrostoly</text>
<text class="lg" x="2760" y="900">parklety + podia</text>
</g>
</svg>
